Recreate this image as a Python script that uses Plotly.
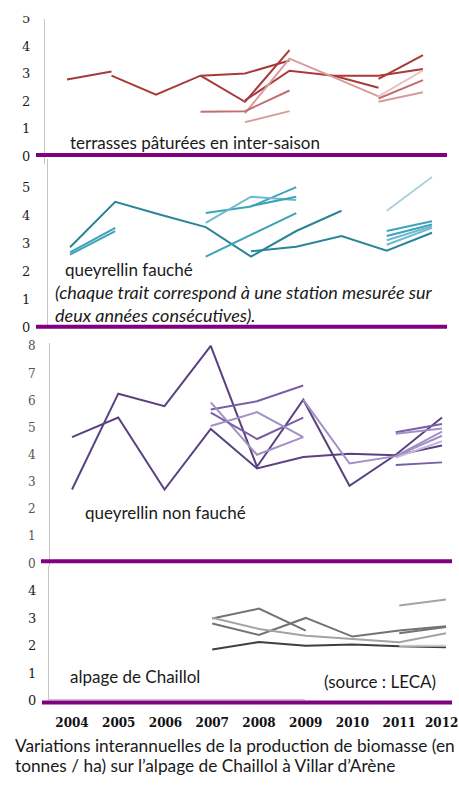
import plotly.graph_objects as go

W, H = 459, 785
N = None

years = [2004, 2005, 2006, 2007, 2008, 2009, 2010, 2011, 2012]
year_labels = ["2004", "2005", "2006", "2007", "2008", "2009", "2010", "2011", ""]
last_year_label = "2012"

# --- terrasses pâturées en inter-saison ---
terrasses = [
    [2.79, 3.08, N, N, N, N, N, N, N],
    [N, 2.93, 2.24, 2.93, 3.01, 3.48, N, N, N],
    [N, N, N, 2.93, 1.98, 3.86, N, N, N],
    [N, N, N, N, 2.03, 3.11, 2.93, 2.49, N],
    [N, N, N, N, N, N, 2.93, 2.93, 3.17],
    [N, N, N, N, N, N, N, 2.81, 3.68],
    [N, N, N, N, 1.56, 3.55, 2.87, 2.18, N],
    [N, N, N, N, N, N, N, 2.18, 3.12],
    [N, N, N, 1.62, 1.64, 2.39, N, N, N],
    [N, N, N, N, 1.24, 1.64, N, N, N],
    [N, N, N, N, N, N, N, 1.98, 2.33],
    [N, N, N, N, N, N, N, 2.10, 2.77],
]
terrasses_shade = [0, 0, 0, 0, 0, 0, 2, 3, 1, 2, 2, 1]

# --- queyrellin fauché ---
fauche = [
    [2.86, 4.48, 4.02, 3.58, 2.53, 3.44, 4.16, N, N],
    [N, N, N, N, 2.72, 2.88, 3.26, 2.74, 3.38],
    [2.68, 3.55, N, N, N, N, N, N, N],
    [2.60, 3.44, N, N, N, N, N, N, N],
    [N, N, N, 4.08, 4.31, 5.00, N, N, N],
    [N, N, N, 3.73, 4.66, 4.54, N, N, N],
    [N, N, N, N, 4.33, 4.66, N, N, N],
    [N, N, N, 2.53, 3.30, 4.08, N, N, N],
    [N, N, N, N, N, N, N, 4.16, 5.36],
    [N, N, N, N, N, N, N, 3.44, 3.79],
    [N, N, N, N, N, N, N, 3.26, 3.67],
    [N, N, N, N, N, N, N, 3.11, 3.61],
    [N, N, N, N, N, N, N, 2.95, 3.55],
]
fauche_shade = [0, 0, 1, 1, 1, 2, 1, 1, 3, 1, 1, 2, 2]

# --- queyrellin non fauché ---
non_fauche = [
    [4.65, 5.37, 2.72, 4.95, 3.50, 3.92, 4.04, 3.98, 4.34],
    [2.72, 6.25, 5.79, 8.01, 3.56, 6.03, 2.86, 4.00, 5.37],
    [N, N, N, N, N, 6.03, 3.68, 3.95, 4.70],
    [N, N, N, 5.67, 5.97, 6.55, N, N, N],
    [N, N, N, 5.93, 4.00, 4.65, N, N, N],
    [N, N, N, 5.55, 4.58, 5.37, N, N, N],
    [N, N, N, 5.06, 5.57, 4.65, N, N, N],
    [N, N, N, N, N, N, N, 4.83, 5.13],
    [N, N, N, N, N, N, N, 4.77, 4.97],
    [N, N, N, N, N, N, N, 3.62, 3.72],
    [N, N, N, N, N, N, N, 3.90, 4.50],
    [N, N, N, N, N, N, N, 3.95, 4.85],
]
non_fauche_shade = [0, 0, 2, 1, 2, 1, 2, 1, 2, 1, 3, 2]

# --- alpage de Chaillol ---
alpage = [
    [N, N, N, 1.86, 2.13, 2.00, 2.04, 1.98, 1.94],
    [N, N, N, 2.99, 3.35, 2.55, N, N, N],
    [N, N, N, 2.81, 2.39, 3.01, 2.33, 2.55, 2.71],
    [N, N, N, 3.02, 2.61, 2.36, 2.25, 2.12, 2.45],
    [N, N, N, N, N, N, N, 3.46, 3.68],
    [N, N, N, N, N, N, N, 2.45, 2.68],
    [N, N, N, N, N, N, N, 2.00, 2.00],
]
alpage_shade = [0, 1, 1, 2, 2, 1, 3]

palettes = {
    "red": ["#a83a3a", "#c46e6e", "#d99c9c", "#e9c3c3"],
    "teal": ["#2b8599", "#3ea2ba", "#6cbad0", "#aad3df"],
    "purple": ["#5a4182", "#7a5fa8", "#a190c6", "#c4b8dc"],
    "gray": ["#3f3f3f", "#737373", "#a3a3a3", "#c9c9c9"],
}


def fx(px):
    return px / W


def fy(py):
    return 1 - py / H


fig = go.Figure()

panels = [
    (terrasses, terrasses_shade, "red", "x", "y"),
    (fauche, fauche_shade, "teal", "x2", "y2"),
    (non_fauche, non_fauche_shade, "purple", "x3", "y3"),
    (alpage, alpage_shade, "gray", "x4", "y4"),
]
for series, shades, pal, xa, ya in panels:
    for vals, sh in zip(series, shades):
        fig.add_trace(go.Scatter(
            x=years, y=vals, mode="lines", xaxis=xa, yaxis=ya,
            line=dict(color=palettes[pal][sh], width=2),
            connectgaps=False, showlegend=False, hoverinfo="skip"))

# x_axis_px, px_2004, px_2012, right_px, py_top, py_bottom, ymin, ymax, ymaxtick, standoff
geom = [
    (45, 67, 423, 447, 12, 160, -0.28, 5.0, 5, 11),
    (48, 70, 432, 447, 155, 327, 0.0, 6.0, 5, 14),
    (50, 72, 442, 452, 343, 570, -0.1, 8.1, 8, 11),
    (49, 72, 446, 452, 570, 707, 0.0, 4.9, 4, 9),
]
xtickfont = dict(family="DejaVu Serif", size=12, color="#111111", weight="bold")
xstandoff = 14
layout = {}
for i, (ax, p04, p12, rpx, ptop, pbot, ymin, ymax, ymt, so) in enumerate(geom):
    sfx = "" if i == 0 else str(i + 1)
    step = (p12 - p04) / 8.0
    r0 = 2004 - (p04 - ax) / step
    r1 = 2012 + (rpx - p12) / step
    layout["xaxis" + sfx] = dict(
        domain=[fx(ax), fx(rpx)], range=[r0, r1], anchor="y" + sfx,
        showgrid=False, zeroline=False, showline=False,
        showticklabels=(i == 3), tickmode="array", tickvals=years,
        ticktext=year_labels, ticks="", tickfont=xtickfont,
        ticklabelstandoff=xstandoff, fixedrange=True)
    layout["yaxis" + sfx] = dict(
        domain=[fy(pbot), fy(ptop)], range=[ymin, ymax], anchor="x" + sfx,
        showgrid=False, zeroline=False, showline=True, linecolor="#c4c4c4",
        linewidth=1, tickmode="array", tickvals=list(range(0, ymt + 1)),
        ticks="",
        tickfont=dict(family="DejaVu Serif", size=13 if i != 2 else 12,
                      color="#555555" if i == 2 else "#1e1e1e"),
        ticklabelstandoff=so, fixedrange=True)

purple = "#800080"
shapes = []
for x0, x1, py in [(36, 447, 151), (36, 447, 326), (41, 452, 565), (42, 452, 709)]:
    shapes.append(dict(type="line", xref="paper", yref="paper",
                       x0=fx(x0), x1=fx(x1), y0=fy(py), y1=fy(py),
                       line=dict(color=purple, width=4), layer="above"))
shapes.append(dict(type="line", xref="paper", yref="paper",
                   x0=fx(49), x1=fx(305), y0=fy(706), y1=fy(706),
                   line=dict(color="#c4c4c4", width=1), layer="below"))
shapes.append(dict(type="rect", xref="paper", yref="paper",
                   x0=0, x1=fx(40), y0=fy(9), y1=1,
                   fillcolor="white", line=dict(width=0), layer="above"))

annots = [
    ("terrasses pâturées en inter-saison", 68, 138, 17, False),
    ("queyrellin fauché", 63, 268, 17, False),
    ("(chaque trait correspond à une station mesurée sur", 53, 291, 18, True),
    ("deux années consécutives).", 53, 314, 18, True),
    ("queyrellin non fauché", 83, 515, 17, False),
    ("alpage de Chaillol", 68, 683, 17, False),
    ("(source : LECA)", 322, 688, 17, False),
    ("Variations interannuelles de la production de biomasse (en", 13, 753, 17.3, False),
    ("tonnes / ha) sur l’alpage de Chaillol à Villar d’Arène", 13, 773, 17.3, False),
]
annotations = []
for text, x, y, sz, ital in annots:
    t = "<i>" + text + "</i>" if ital else text
    annotations.append(dict(text=t, xref="paper", yref="paper", x=fx(x), y=fy(y),
                            xanchor="left", yanchor="middle", showarrow=False,
                            font=dict(family="Lato", size=sz, color="#1a1a1a")))

# last year label, kept just inside the right edge of the page
annotations.append(dict(text=last_year_label, xref="x4", yref="y4", x=years[-1], y=0,
                        xanchor="center", yanchor="top", xshift=-5,
                        yshift=-(xstandoff + 1), showarrow=False,
                        borderpad=0, font=xtickfont))

fig.update_layout(
    width=W, height=H, margin=dict(l=0, r=0, t=0, b=0),
    paper_bgcolor="white", plot_bgcolor="rgba(0,0,0,0)",
    shapes=shapes, annotations=annotations, **layout)

fig.write_html("out.html", config={"displayModeBar": False})
